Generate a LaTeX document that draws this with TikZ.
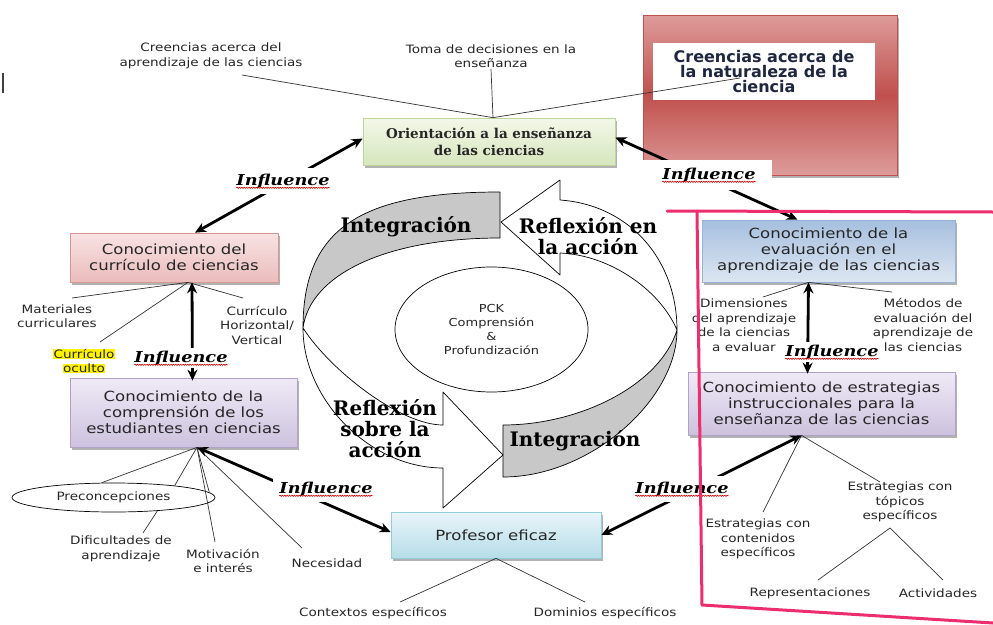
\documentclass[tikz,border=0pt]{standalone}
\usepackage{fontspec}
\usetikzlibrary{arrows.meta,shadows,shapes.geometric,decorations.pathmorphing}

\newfontfamily\boxfont{DejaVu Sans}[FakeStretch=1.18]
\newfontfamily\titlefont{DejaVu Sans}
\newfontfamily\cyclefont{DejaVu Serif}
\newfontfamily\inflfont{DejaVu Serif}[FakeStretch=1.18]

\definecolor{oriTop}{HTML}{F3F8EA}
\definecolor{oriBot}{HTML}{D6E6BC}
\definecolor{oriLine}{HTML}{BFD59A}
\definecolor{curTop}{HTML}{F8E3E3}
\definecolor{curBot}{HTML}{EBBCBC}
\definecolor{curLine}{HTML}{D99694}
\definecolor{comTop}{HTML}{EFEAF6}
\definecolor{comBot}{HTML}{CDC2DE}
\definecolor{comLine}{HTML}{B3A2C7}
\definecolor{proTop}{HTML}{E8F5F9}
\definecolor{proBot}{HTML}{B7DDE8}
\definecolor{proLine}{HTML}{93CDDD}
\definecolor{evaTop}{HTML}{A6BFDE}
\definecolor{evaBot}{HTML}{DCE6F2}
\definecolor{evaLine}{HTML}{95B3D7}
\definecolor{redLight}{HTML}{DD9C9A}
\definecolor{redDark}{HTML}{C0504D}
\definecolor{navyText}{HTML}{1F2640}
\definecolor{bandGrey}{HTML}{C8C8C8}
\definecolor{frameRed}{HTML}{EC2D6E}
\definecolor{inkText}{HTML}{262626}

\newcommand{\hilite}[1]{{\setlength{\fboxsep}{0.5pt}\colorbox{yellow}{#1}}}

\begin{document}
\begin{tikzpicture}[x=1pt,y=-1pt,
  kbox/.style={draw=#1, line width=0.7pt, align=center, inner sep=2pt,
    drop shadow={shadow xshift=2pt,shadow yshift=-2.5pt,fill=black,opacity=0.3},
    font=\boxfont\fontsize{14}{16}\selectfont, text=inkText},
  note/.style={align=center, inner sep=1pt, font=\boxfont\fontsize{11.5}{14.5}\selectfont, text=inkText},
  cycletext/.style={align=center, inner sep=0pt, font=\cyclefont\bfseries\fontsize{20}{21}\selectfont},
  thinline/.style={draw=black!80, line width=0.7pt},
  influence/.style={line width=2.8pt, {Stealth[length=11pt,width=10pt]}-{Stealth[length=11pt,width=10pt]}},
  squiggle/.style={draw=red!85!black, line width=0.6pt, decorate,
    decoration={snake,amplitude=0.6pt,segment length=2.4pt}},
  inflabel/.style={fill=white, inner xsep=6pt, inner ysep=2.5pt,
    font=\inflfont\bfseries\itshape\fontsize{15}{15}\selectfont,
    append after command={([xshift=6pt,yshift=-2.5pt]\tikzlastnode.base west)
      edge[squiggle] ([xshift=-6pt,yshift=-2.5pt]\tikzlastnode.base east)}},
  band/.style={draw=black, line width=0.7pt, line join=round},
  pinkframe/.style={draw=frameRed, line width=3pt, line cap=round, line join=round}]

\useasboundingbox (0,0) rectangle (993,624);

% beliefs about the nature of science
\node[draw=redDark, line width=0.8pt, top color=redLight, bottom color=redLight, middle color=redDark,
  minimum width=254pt, minimum height=160pt,
  drop shadow={shadow xshift=2pt,shadow yshift=-2.5pt,fill=black,opacity=0.3}] (redBox) at (770,95) {};
\node[fill=white, minimum width=222pt, minimum height=57pt, align=center, inner sep=1pt,
  font=\titlefont\bfseries\fontsize{16}{15}\selectfont, text=navyText] (natCien) at (764,71.5)
  {Creencias acerca de\\la naturaleza de la\\ciencia};

% main boxes
\node[kbox=oriLine, top color=oriTop, bottom color=oriBot, minimum width=252pt, minimum height=47pt,
  font=\cyclefont\bfseries\fontsize{13.5}{17}\selectfont] (ori) at (489,141.5)
  {Orientación a la enseñanza\\de las ciencias};
\node[kbox=curLine, top color=curTop, bottom color=curBot, minimum width=208pt, minimum height=49pt] (cur) at (174,257.5)
  {Conocimiento del\\currículo de ciencias};
\node[kbox=comLine, top color=comTop, bottom color=comBot, minimum width=227pt, minimum height=69pt] (comp) at (183.5,412.5)
  {Conocimiento de la\\comprensión de los\\estudiantes en ciencias};
\node[kbox=proLine, top color=proTop, bottom color=proBot, minimum width=210pt, minimum height=46pt] (prof) at (496,535)
  {Profesor eficaz};
\node[kbox=evaLine, top color=evaTop, bottom color=evaBot, minimum width=253pt, minimum height=62pt] (eval) at (828.5,251)
  {Conocimiento de la\\evaluación en el\\aprendizaje de las ciencias};
\node[kbox=comLine, top color=comTop, bottom color=comBot, minimum width=267pt, minimum height=63pt] (estr) at (821.5,403.5)
  {Conocimiento de estrategias\\instruccionales para la\\enseñanza de las ciencias};

% PCK cycle
\path[band, fill=bandGrey] (303,328) .. controls (303,228) and (361,192) .. (500,192) -- (500,238)
  .. controls (385,238) and (310,275) .. (303,328) -- cycle;
\path[band, fill=white] (677,330) .. controls (677,260) and (630,205) .. (560,200) -- (560,180) -- (501,222)
  -- (560,275) -- (560,253) .. controls (610,255) and (660,290) .. (677,330) -- cycle;
\path[band, fill=bandGrey] (677,330) .. controls (677,400) and (590,477) .. (503,477) -- (503,425)
  .. controls (580,425) and (660,385) .. (677,330) -- cycle;
\path[band, fill=white] (303,328) .. controls (303,400) and (370,468) .. (443,468) -- (443,508) -- (503,455)
  -- (443,392) -- (443,425) .. controls (400,425) and (330,370) .. (303,328) -- cycle;
\node[ellipse, draw, line width=0.7pt, minimum width=193pt, minimum height=125pt, inner sep=0pt,
  align=center, font=\boxfont\fontsize{11}{14}\selectfont, text=inkText] (pck) at (491.5,329.5)
  {PCK\\Comprensión\\\&\\Profundización};
\node[cycletext] (integA) at (406,227) {Integración};
\node[cycletext] (reflEn) at (588,236) {Reflexión en\\la acción};
\node[cycletext] (reflSob) at (385,429) {Reflexión\\sobre la\\acción};
\node[cycletext] (integB) at (575,441) {Integración};

% around the orientation box
\node[note] (creApr) at (211,56) {Creencias acerca del\\aprendizaje de las ciencias};
\node[note] (tomaDec) at (491,56) {Toma de decisiones en la\\enseñanza};
\coordinate (oriTip) at ([xshift=4pt]ori.north);
\coordinate (creEnd) at (242,75);
\coordinate (natEnd) at (740,78);
\draw[thinline] (oriTip) -- (creEnd);
\draw[thinline] (oriTip) -- (tomaDec.south);
\draw[thinline] (oriTip) -- (natEnd);

% around the curriculum box
\node[note] (mater) at (57,316) {Materiales\\curriculares};
\node[note] (oculto) at (84,361) {\hilite{Currículo}\\\hilite{oculto}};
\node[note] (horiz) at (257,325) {Currículo\\Horizontal/\\Vertical};
\coordinate (curTip) at ([xshift=14pt]cur.south);
\coordinate (matEnd) at (72,298);
\coordinate (ocuEnd) at (100,342);
\coordinate (horEnd) at (243,298);
\draw[thinline] (curTip) -- (matEnd);
\draw[thinline] (curTip) -- (ocuEnd);
\draw[thinline] (curTip) -- (horEnd);

% around the students box
\node[ellipse, draw, line width=0.7pt, minimum width=203pt, minimum height=29pt, inner sep=0pt,
  font=\boxfont\fontsize{11.5}{14}\selectfont, text=inkText] (preco) at (113.5,497.5) {Preconcepciones};
\node[note] (dific) at (121,549) {Dificultades de\\aprendizaje};
\node[note] (motiv) at (223,561) {Motivación\\e interés};
\node[note] (neces) at (327,563) {Necesidad};
\coordinate (compTip) at ([xshift=13.5pt]comp.south);
\coordinate (difEnd) at (143,533);
\coordinate (motEnd) at (215,542);
\coordinate (necEnd) at (302,548);
\draw[thinline] (compTip) -- (preco.129);
\draw[thinline] (compTip) -- (preco.11);
\draw[thinline] (compTip) -- (preco.3);
\draw[thinline] (compTip) -- (motEnd);
\draw[thinline] (compTip) -- (necEnd);
\draw[thinline] (preco.-17) -- (difEnd);

% around the teacher box
\node[note] (ctx) at (373,613) {Contextos específicos};
\node[note] (dom) at (605,613) {Dominios específicos};
\coordinate (ctxEnd) at (400,602);
\coordinate (domEnd) at (585,602);
\draw[thinline] (prof.south) -- (ctxEnd);
\draw[thinline] (prof.south) -- (domEnd);

% around the assessment box
\node[note] (dimen) at (744,325) {Dimensiones\\del aprendizaje\\de la ciencias\\a evaluar};
\node[note] (metod) at (923,325) {Métodos de\\evaluación del\\aprendizaje de\\las ciencias};
\coordinate (evalTip) at ([xshift=-20pt]eval.south);
\coordinate (dimEnd) at (763,297);
\coordinate (metEnd) at (892,292);
\draw[thinline] (evalTip) -- (dimEnd);
\draw[thinline] (evalTip) -- (metEnd);

% around the strategies box
\node[note] (econ) at (758,539) {Estrategias con\\contenidos\\específicos};
\node[note] (etop) at (900,502) {Estrategias con\\tópicos\\específicos};
\node[note] (repr) at (810,593) {Representaciones};
\node[note] (activ) at (938,593) {Actividades};
\coordinate (estrTip) at ([xshift=-20pt]estr.south);
\coordinate (econEnd) at (763,512);
\coordinate (etopEnd) at (880,482);
\coordinate (etopTip) at (890,528);
\coordinate (reprEnd) at (818,580);
\coordinate (activEnd) at (943,580);
\draw[thinline] (estrTip) -- (econEnd);
\draw[thinline] (estrTip) -- (etopEnd);
\draw[thinline] (etopTip) -- (reprEnd);
\draw[thinline] (etopTip) -- (activEnd);

% influence arrows
\draw[influence] ([yshift=3pt]ori.west) -- ([xshift=21pt]cur.north);
\draw[influence] ([yshift=4pt]ori.east) -- ([xshift=-31pt]eval.north);
\draw[influence] ([xshift=18pt]cur.south) -- ([xshift=9pt,yshift=-3pt]comp.north);
\draw[influence] ([xshift=-20pt]eval.south) -- ([xshift=-14pt,yshift=-2pt]estr.north);
\draw[influence] (compTip) -- ([yshift=3pt]prof.west);
\draw[influence] (estrTip) -- (prof.east);

\fill[white] (640,160) rectangle (772,190);
\node[inflabel, inner ysep=6pt] (inflA) at (283,181) {Influence};
\node[inflabel, inner ysep=6pt] (inflB) at (709,175) {Influence};
\node[inflabel] (inflC) at (181,358) {Influence};
\node[inflabel, inner ysep=6pt] (inflD) at (326,489) {Influence};
\node[inflabel, inner ysep=6pt] (inflE) at (682,489) {Influence};
\node[inflabel] (inflF) at (832,352) {Influence};

% pink frame and stray mark
\draw[pinkframe] (667,211) -- (993,212);
\draw[pinkframe] (697,211) -- (702,605) -- (993,623);
\draw[line width=1.5pt, black!75] (3,73) -- (3,93);

\end{tikzpicture}
\end{document}
